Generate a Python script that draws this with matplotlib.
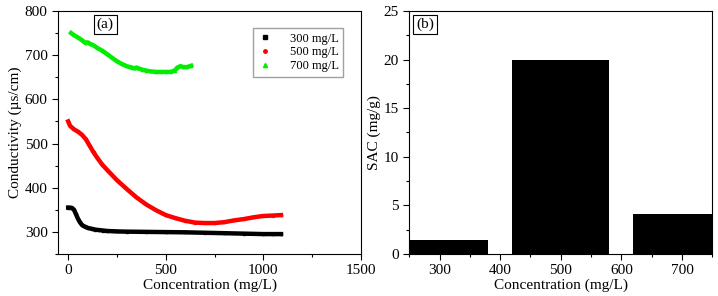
import matplotlib
matplotlib.use('Agg')
import matplotlib.pyplot as plt
from matplotlib.lines import Line2D
from matplotlib.ticker import MultipleLocator

plt.rcParams['font.family'] = ['Liberation Serif', 'DejaVu Serif']

# (a) conductividad vs concentracion
x300 = [0, 10, 20, 30, 40, 50, 60, 70, 80, 90, 100, 120, 140, 160, 180, 200, 250, 300,
        400, 500, 600, 700, 800, 900, 1000, 1050, 1090]
y300 = [355, 355, 354, 350, 340, 330, 322, 316, 313, 311, 309, 307, 305, 304, 303, 302, 301, 300.5,
        300, 299.5, 299, 298, 297, 296, 295, 295, 295]
x500 = [0, 10, 30, 50, 70, 90, 110, 130, 150, 175, 200, 250, 300, 350, 400, 450, 500, 550,
        600, 650, 700, 750, 800, 850, 900, 950, 1000, 1050, 1090]
y500 = [550, 540, 532, 527, 520, 510, 495, 480, 467, 452, 440, 417, 397, 378, 362, 349, 338, 331,
        325, 321, 320, 320, 322, 326, 329, 333, 336, 337, 338]
x700 = [15, 30, 50, 70, 90, 100, 110, 130, 150, 175, 200, 225, 250, 275, 300, 325, 340, 350,
        360, 380, 400, 425, 450, 475, 500, 525, 545, 560, 575, 590, 610, 630]
y700 = [750, 745, 740, 734, 727, 729, 726, 722, 716, 710, 702, 694, 686, 680, 675, 672, 670, 672,
        670, 667, 665, 663, 662, 662, 662, 662, 665, 672, 675, 673, 673, 676]

# (b) SAC
conc = [300, 500, 700]
sac = [1.4, 20.0, 4.1]

fig = plt.figure(figsize=(7.18, 2.96), dpi=100)
ax1 = fig.add_axes([0.0808, 0.142, 0.422, 0.821])
ax2 = fig.add_axes([0.570, 0.142, 0.422, 0.821])

ax1.plot(x300, y300, color='black', lw=3.2, marker='s', ms=1.5)
ax1.plot(x500, y500, color='red', lw=3.2, marker='o', ms=1.5)
ax1.plot(x700, y700, color='#00ee00', lw=3.2, marker='^', ms=1.5)
ax1.set_xlim(-52, 1500)
ax1.set_ylim(250, 800)
ax1.xaxis.set_major_locator(MultipleLocator(500))
ax1.xaxis.set_minor_locator(MultipleLocator(250))
ax1.yaxis.set_major_locator(MultipleLocator(100))
ax1.yaxis.set_minor_locator(MultipleLocator(50))
ax1.set_xlabel('Concentration (mg/L)', fontsize=11, labelpad=1)
ax1.set_ylabel('Conductivity (\u00b5s/cm)', fontsize=11, labelpad=2)

handles = [Line2D([], [], ls='none', marker='s', color='black', ms=2.5),
           Line2D([], [], ls='none', marker='o', color='red', ms=2.5),
           Line2D([], [], ls='none', marker='^', color='#00ee00', ms=3)]
ax1.legend(handles, ['300 mg/L', '500 mg/L', '700 mg/L'], loc='upper right',
           bbox_to_anchor=(0.962, 0.955), fontsize=9, frameon=True, fancybox=False,
           edgecolor='#888888', handletextpad=1.4, borderpad=0.35, labelspacing=0.15,
           handlelength=1.2)
ax1.text(0.128, 0.945, '(a)', transform=ax1.transAxes, fontsize=11, va='center', ha='left',
         bbox=dict(boxstyle='square,pad=0.2', fc='white', ec='black', lw=0.8))

ax2.bar(conc, sac, width=160, color='black')
ax2.set_xlim(250, 750)
ax2.set_ylim(0, 25)
ax2.xaxis.set_major_locator(MultipleLocator(100))
ax2.xaxis.set_minor_locator(MultipleLocator(50))
ax2.yaxis.set_major_locator(MultipleLocator(5))
ax2.yaxis.set_minor_locator(MultipleLocator(2.5))
ax2.set_xlabel('Concentration (mg/L)', fontsize=11, labelpad=1)
ax2.set_ylabel('SAC (mg/g)', fontsize=11, labelpad=2)
ax2.text(0.022, 0.945, '(b)', transform=ax2.transAxes, fontsize=11, va='center', ha='left',
         bbox=dict(boxstyle='square,pad=0.2', fc='white', ec='black', lw=0.8))

for ax in (ax1, ax2):
    ax.tick_params(which='both', direction='out', labelsize=11, width=0.8)
    ax.tick_params(which='major', length=4)
    ax.tick_params(which='minor', length=2.5)
    for s in ax.spines.values():
        s.set_linewidth(0.8)

fig.savefig('out.png', dpi=100)
